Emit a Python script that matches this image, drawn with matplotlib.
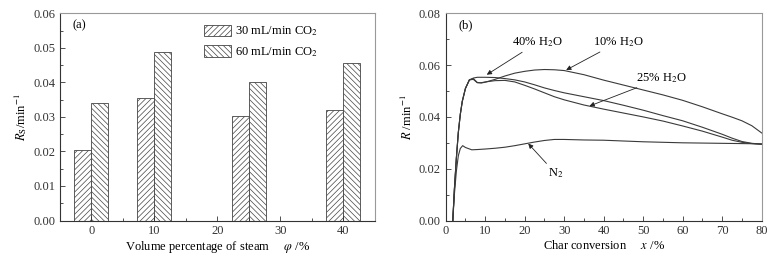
import matplotlib
matplotlib.use('Agg')
import matplotlib.pyplot as plt
from matplotlib.ticker import MultipleLocator

plt.rcParams['font.family'] = ['Liberation Serif', 'DejaVu Serif']
plt.rcParams['mathtext.fontset'] = 'stix'
plt.rcParams['hatch.linewidth'] = 0.5
plt.rcParams['hatch.color'] = '#555555'

# ---------------- (a) bar data ----------------
steam = [0, 10, 25, 40]
rs_30 = [0.0204, 0.0354, 0.0304, 0.0319]
rs_60 = [0.0339, 0.0489, 0.0401, 0.0456]

# ---------------- (b) curve data ----------------
x_h2o = [1.8, 2.2, 2.7, 3.2, 3.7, 4.2, 5, 6, 7, 8, 9, 10, 12.5, 15, 17.5, 20,
         22.5, 25, 27.5, 30, 35, 40, 45, 50, 55, 60, 65, 70, 72.5, 75, 77.5, 80]
r_10 = [0.0, 0.012, 0.024, 0.034, 0.041, 0.046, 0.051, 0.0543, 0.0548, 0.0533, 0.0531, 0.0534,
        0.0545, 0.0558, 0.0569, 0.0576, 0.0581, 0.0583, 0.0582, 0.0579, 0.0563, 0.0542, 0.0523,
        0.0504, 0.0485, 0.0464, 0.0439, 0.0412, 0.0399, 0.0385, 0.0366, 0.0338]
r_40 = [0.0, 0.012, 0.024, 0.034, 0.041, 0.046, 0.051, 0.0543, 0.0550, 0.0553, 0.0553, 0.0553,
        0.0552, 0.0548, 0.0543, 0.0535, 0.0524, 0.0512, 0.0502, 0.0493, 0.0478, 0.0463, 0.0445,
        0.0426, 0.0405, 0.0385, 0.0360, 0.0333, 0.0318, 0.0305, 0.0298, 0.0295]
r_25 = [0.0, 0.012, 0.024, 0.034, 0.041, 0.046, 0.051, 0.0543, 0.0545, 0.0532, 0.0532, 0.0535,
        0.0540, 0.0541, 0.0535, 0.0522, 0.0508, 0.0493, 0.0478, 0.0466, 0.0446, 0.0430, 0.0415,
        0.0400, 0.0384, 0.0365, 0.0345, 0.0322, 0.0310, 0.0302, 0.0297, 0.0294]
x_n2 = [1.8, 2.2, 2.7, 3.2, 3.7, 4.3, 5, 6.6, 8, 10, 12.5, 15, 17.5, 20, 22.5, 25,
        27.5, 30, 35, 40, 45, 50, 55, 60, 65, 70, 75, 80]
r_n2 = [0.0, 0.010, 0.019, 0.025, 0.0278, 0.0289, 0.0282, 0.0273, 0.0274, 0.0276, 0.0279, 0.0283,
        0.0289, 0.0296, 0.0303, 0.0309, 0.0313, 0.0313, 0.0311, 0.0310, 0.0307, 0.0304, 0.0302,
        0.0300, 0.0299, 0.0298, 0.0297, 0.0296]

fig = plt.figure(figsize=(7.77, 2.58), dpi=100)
ax1 = fig.add_axes([0.0772, 0.1453, 0.4054, 0.8031])
ax2 = fig.add_axes([0.5736, 0.1453, 0.4067, 0.8031])


def style_axes(ax):
    ax.tick_params(which='both', direction='in', top=False, right=False,
                   labelsize=9, colors='#333333')
    ax.tick_params(which='major', length=3.5, width=0.6)
    ax.tick_params(which='minor', length=2, width=0.6)
    for side in ['left', 'bottom']:
        ax.spines[side].set_color('#333333')
        ax.spines[side].set_linewidth(0.8)
    for side in ['top', 'right']:
        ax.spines[side].set_color('#999999')
        ax.spines[side].set_linewidth(0.8)


# ---- (a) ----
w = 2.7
ax1.bar([s - w / 2 for s in steam], rs_30, width=w, color='white', edgecolor='#444444',
        linewidth=0.6, hatch='//////', label='30 mL/min CO$_2$')
ax1.bar([s + w / 2 for s in steam], rs_60, width=w, color='white', edgecolor='#444444',
        linewidth=0.6, hatch='\\\\\\\\\\\\', label='60 mL/min CO$_2$')
ax1.set_xlim(-5, 45)
ax1.set_ylim(0, 0.06)
ax1.xaxis.set_major_locator(MultipleLocator(10))
ax1.xaxis.set_minor_locator(MultipleLocator(5))
ax1.yaxis.set_major_locator(MultipleLocator(0.01))
ax1.yaxis.set_minor_locator(MultipleLocator(0.005))
ax1.yaxis.set_major_formatter(plt.FormatStrFormatter('%.2f'))
style_axes(ax1)
ax1.set_xlabel('Volume percentage of steam     $\\varphi$ /%', fontsize=9, labelpad=1)
ax1.set_ylabel('$R_\\mathrm{S}$/min$^{-1}$', fontsize=9, labelpad=3)
ax1.text(0.04, 0.94, '(a)', transform=ax1.transAxes, fontsize=9, va='center')
ax1.legend(loc='upper left', bbox_to_anchor=(0.44, 0.97), frameon=False, fontsize=9,
           handlelength=2.2, handleheight=1.0, handletextpad=0.3, labelspacing=0.55,
           borderaxespad=0)

# ---- (b) ----
lc = '#3a3a3a'
ax2.plot(x_h2o, r_10, color=lc, lw=0.8)
ax2.plot(x_h2o, r_40, color=lc, lw=0.8)
ax2.plot(x_h2o, r_25, color=lc, lw=0.8)
ax2.plot(x_n2, r_n2, color=lc, lw=0.8)
ax2.set_xlim(0, 80)
ax2.set_ylim(0, 0.08)
ax2.xaxis.set_major_locator(MultipleLocator(10))
ax2.xaxis.set_minor_locator(MultipleLocator(5))
ax2.yaxis.set_major_locator(MultipleLocator(0.02))
ax2.yaxis.set_minor_locator(MultipleLocator(0.01))
ax2.yaxis.set_major_formatter(plt.FormatStrFormatter('%.2f'))
style_axes(ax2)
ax2.set_xlabel('Char conversion     $x$ /%', fontsize=9, labelpad=1)
ax2.set_ylabel('$R$ /min$^{-1}$', fontsize=9, labelpad=3)
ax2.text(0.04, 0.94, '(b)', transform=ax2.transAxes, fontsize=9, va='center')

arrow = dict(arrowstyle='-|>', color='#222222', lw=0.6, mutation_scale=7,
             shrinkA=0, shrinkB=0)
ax2.annotate('40% H$_2$O', xy=(10.4, 0.0563), xytext=(16.8, 0.0687), fontsize=9,
             ha='left', va='center', arrowprops=arrow)
ax2.annotate('10% H$_2$O', xy=(30.5, 0.0581), xytext=(37.2, 0.0688), fontsize=9,
             ha='left', va='center', arrowprops=arrow)
ax2.annotate('25% H$_2$O', xy=(36.4, 0.0442), xytext=(48.3, 0.0550), fontsize=9,
             ha='left', va='center', arrowprops=arrow)
ax2.annotate('N$_2$', xy=(20.9, 0.0297), xytext=(25.8, 0.0183), fontsize=9,
             ha='left', va='center', arrowprops=arrow)

fig.savefig('out.png', dpi=100)
